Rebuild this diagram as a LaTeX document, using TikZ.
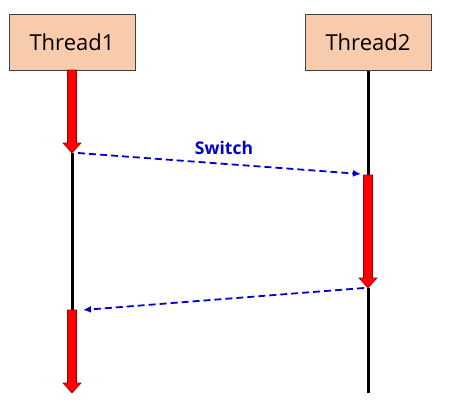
\documentclass[tikz,border=0pt]{standalone}
\usepackage{fontspec}
\setmainfont{Open Sans}
\usetikzlibrary{arrows.meta}
\definecolor{peach}{HTML}{F8CBAD}
\definecolor{boxline}{HTML}{404040}
\definecolor{msgblue}{HTML}{0000CC}
\definecolor{darkred}{HTML}{A00000}
\tikzset{
  thread/.style={draw=boxline, line width=0.8pt, fill=peach, minimum width=126pt, minimum height=56pt, inner sep=0pt, font=\fontsize{22}{26}\selectfont},
  life/.style={line width=3pt, black},
  msg/.style={draw=msgblue, line width=1.8pt, dash pattern=on 7pt off 4pt, -{Latex[length=8pt,width=7pt]}},
  block/.style={fill=red, draw=darkred, line width=0.6pt, line join=miter}
}
\begin{document}
\begin{tikzpicture}[x=1pt,y=-1pt]
\useasboundingbox (0,0) rectangle (451,413);
\node[thread] (t1) at (72,42) {Thread1};
\node[thread] (t2) at (368,42.5) {Thread2};
% lifelines
\coordinate (a1) at (72,153);
\coordinate (a2) at (72,310);
\coordinate (b1) at (368,175);
\coordinate (b2) at (368,288);
\coordinate (b3) at (368,393);
\draw[life] (a1) -- (a2);
\draw[life] (t2.south) -- (b1);
\draw[life] (b2) -- (b3);
% active arrows
\draw[block] (67.5,70) -- (76.5,70) -- (76.5,143) -- (81,143) -- (72,153) -- (63,143) -- (67.5,143) -- cycle;
\draw[block] (363.5,175) -- (372.5,175) -- (372.5,278) -- (377,278) -- (368,288) -- (359,278) -- (363.5,278) -- cycle;
\draw[block] (67.5,310) -- (76.5,310) -- (76.5,383) -- (81,383) -- (72,393) -- (63,383) -- (67.5,383) -- cycle;
% messages
\coordinate (m1s) at (78,153);
\coordinate (m1e) at (361,174);
\coordinate (m2s) at (364,288);
\coordinate (m2e) at (83,310);
\draw[msg] (m1s) -- (m1e);
\draw[msg] (m2s) -- (m2e);
\node[text=msgblue, font=\bfseries\fontsize{17.5}{21}\selectfont] (sw) at (224,148) {Switch};
\end{tikzpicture}
\end{document}
